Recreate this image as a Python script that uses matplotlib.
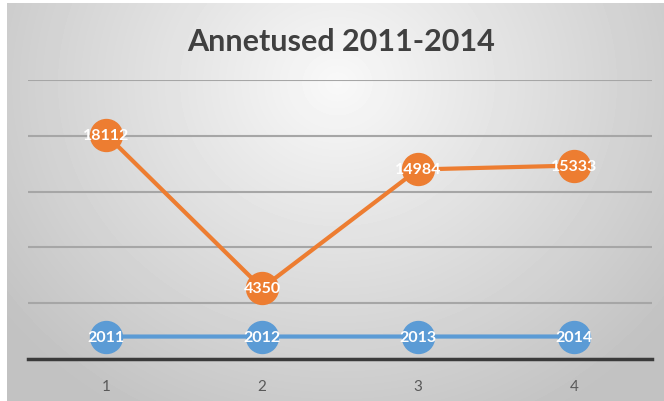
import numpy as np
import matplotlib.pyplot as plt

categories = [1, 2, 3, 4]
years = [2011, 2012, 2013, 2014]
donations = [18112, 4350, 14984, 15333]

W, H = 664, 402
fig = plt.figure(figsize=(W / 100, H / 100), dpi=100)

# radial gray background, lighter near the title
bg = fig.add_axes([7 / W, 0, (W - 7) / W, (H - 4) / H])
bg.axis('off')
yy, xx = np.mgrid[0:398, 0:657]
r = np.sqrt(((xx - 330) / 430) ** 2 + ((yy - 80) / 390) ** 2)
shade = np.clip(0.975 - 0.22 * r, 0.76, 0.975)
bg.imshow(shade, cmap='gray', vmin=0, vmax=1, aspect='auto', interpolation='bilinear')

# plot area
ax = fig.add_axes([28 / W, 42 / H, 624 / W, 279 / H])
ax.patch.set_alpha(0)
ax2 = ax.twinx()

ax.set_xlim(0.5, 4.5)
ax.set_ylim(0, 25000)
ax.set_yticks(np.arange(0, 25001, 5000))
ax.yaxis.grid(True, color='#a6a6a6', lw=1.5)
ax.set_axisbelow(True)
ax.tick_params(left=False, labelleft=False, right=False, bottom=False,
               labelsize=11, labelcolor='#595959', pad=11)
ax.set_xticks(categories)
for lbl in ax.get_xticklabels():
    lbl.set_family('Lato')
for s in ['top', 'right', 'left']:
    ax.spines[s].set_visible(False)
ax.spines['bottom'].set_color('#3a3a3a')
ax.spines['bottom'].set_linewidth(2.5)

ax.plot(categories, years, color='#5B9BD5', lw=3, marker='o', ms=23,
        mec='#5B9BD5')
for x, v in zip(categories, years):
    ax.text(x, v, str(v), ha='center', va='center', color='white',
            fontsize=11.5, fontweight='bold', family='Lato')

# second series on its own scale
ax2.set_ylim(-2000, 23000)
ax2.axis('off')
ax2.plot(categories, donations, color='#ED7D31', lw=3, marker='o', ms=23,
         mec='#ED7D31')
for x, v in zip(categories, donations):
    ax2.text(x, v, str(v), ha='center', va='center', color='white',
             fontsize=11.5, fontweight='bold', family='Lato')

fig.text(341 / W, 1 - 42 / H, 'Annetused 2011-2014', ha='center', va='center',
         fontsize=22, fontweight='bold', color='#404040', family='Lato')

fig.savefig('out.png', dpi=100)
